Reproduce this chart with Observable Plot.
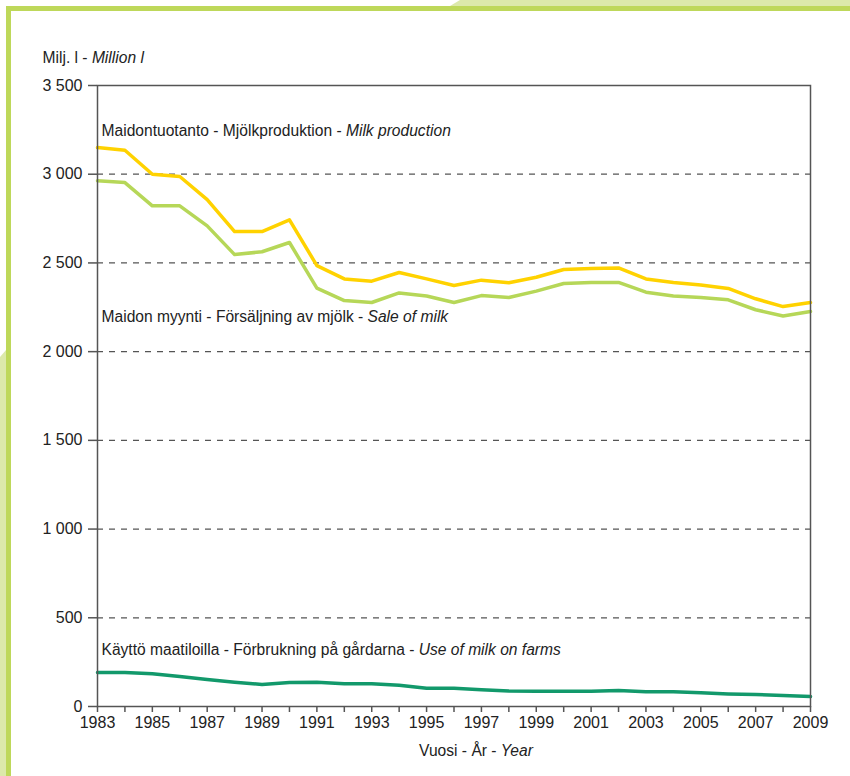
<!DOCTYPE html>
<html>
<head>
<meta charset="utf-8">
<script src="https://cdn.jsdelivr.net/npm/d3@7"></script>
<script src="https://cdn.jsdelivr.net/npm/@observablehq/plot@0.6"></script>
<style>
  html, body { margin: 0; padding: 0; background: #fff; }
  #wrap { position: relative; width: 850px; height: 776px; overflow: hidden; background: #fff; }
  #wrap svg { position: absolute; left: 0; top: 0; }
  .deco { position: absolute; z-index: 2; pointer-events: none; }
</style>
</head>
<body>
<div id="wrap">
  <div class="deco" style="left:0;top:0;width:850px;height:6px;background:#dce9aa;clip-path:polygon(450px 6px,460px 0,850px 0,850px 6px);"></div>
  <div class="deco" style="left:0;top:0;width:6px;height:776px;background:#dce9aa;clip-path:polygon(0 357px,6px 350px,6px 776px,0 776px);"></div>
  <div class="deco" style="left:6px;top:6px;width:844px;height:5px;background:#bed85a;"></div>
  <div class="deco" style="left:6px;top:6px;width:5px;height:770px;background:#bed85a;"></div>
</div>
<script>
// ---- Data ----
const years = d3.range(1983, 2010);
const production = [3150, 3135, 3000, 2987, 2857, 2677, 2677, 2743, 2485, 2410, 2397, 2446, 2410, 2373, 2403, 2388, 2419, 2463, 2469, 2472, 2410, 2390, 2375, 2356, 2298, 2254, 2277];
const sales = [2963, 2953, 2822, 2822, 2709, 2547, 2563, 2615, 2358, 2288, 2277, 2331, 2314, 2277, 2316, 2305, 2341, 2384, 2390, 2390, 2335, 2314, 2305, 2292, 2236, 2201, 2226];
const farmUse = [192, 192, 185, 169, 152, 137, 124, 135, 137, 128, 128, 120, 103, 103, 94, 88, 86, 86, 86, 90, 83, 83, 77, 71, 68, 62, 56];
const yTicks = [0, 500, 1000, 1500, 2000, 2500, 3000, 3500];
const gridValues = [500, 1000, 1500, 2000, 2500, 3000];
const seriesLabels = [
  "Maidontuotanto - Mjölkproduktion - Milk production",
  "Maidon myynti - Försäljning av mjölk - Sale of milk",
  "Käyttö maatiloilla - Förbrukning på gårdarna - Use of milk on farms"
];
const seriesLabelY = [3246, 2198, 316];
const yTitle = "Milj. l - Million l";
const xTitle = "Vuosi - År - Year";

const colProd = "#ffd200";
const colSale = "#b6d758";
const colFarm = "#12996b";

const fmt = d => d3.format(",")(d).replace(/,/g, " ");

const chart = Plot.plot({
  width: 850,
  height: 776,
  marginLeft: 97,
  marginRight: 40,
  marginTop: 85,
  marginBottom: 70,
  style: {background: "transparent", fontFamily: "'Liberation Sans', Arial, sans-serif", fontSize: "16px", color: "#222"},
  x: {domain: [1983, 2009], label: null},
  y: {domain: [0, 3500], label: null},
  marks: [
    Plot.ruleY(gridValues, {stroke: "#555", strokeWidth: 1.2, strokeDasharray: "6,6", strokeOpacity: 1}),
    Plot.line(production, {x: (d, i) => years[i], y: d => d, stroke: colProd, strokeWidth: 3.5}),
    Plot.line(sales, {x: (d, i) => years[i], y: d => d, stroke: colSale, strokeWidth: 3.5}),
    Plot.line(farmUse, {x: (d, i) => years[i], y: d => d, stroke: colFarm, strokeWidth: 3.5}),
    Plot.frame({stroke: "#555", strokeWidth: 1.5}),
    Plot.axisY({ticks: yTicks, tickSize: 9, tickPadding: 6, tickFormat: fmt, fontSize: 16, stroke: "#555", strokeWidth: 1.5}),
    Plot.axisX({ticks: years, tickSize: 6, tickPadding: 4, tickFormat: d => (d % 2 ? String(d) : ""), fontSize: 16, stroke: "#555", strokeWidth: 1.5}),
    Plot.text(seriesLabels, {x: () => 1983, y: (d, i) => seriesLabelY[i], text: d => d, textAnchor: "start", dx: 4, fontSize: 15.6, fill: "#222"}),
    Plot.text([yTitle], {frameAnchor: "top-left", text: d => d, textAnchor: "start", dx: -55, dy: -34, fontSize: 15.6, fill: "#222"}),
    Plot.text([xTitle], {frameAnchor: "bottom", text: d => d, dx: 22, dy: 49, fontSize: 15.6, fill: "#222"})
  ]
});

// Make the English part of each label italic
d3.select(chart).selectAll("g[aria-label='text'] text").each(function () {
  const s = this.textContent;
  const i = s.lastIndexOf(" - ");
  if (i < 0) return;
  const sel = d3.select(this);
  sel.text(null);
  sel.append("tspan").text(s.slice(0, i + 3));
  sel.append("tspan").attr("font-style", "italic").text(s.slice(i + 3));
});

document.getElementById("wrap").prepend(chart);
</script>
</body>
</html>
